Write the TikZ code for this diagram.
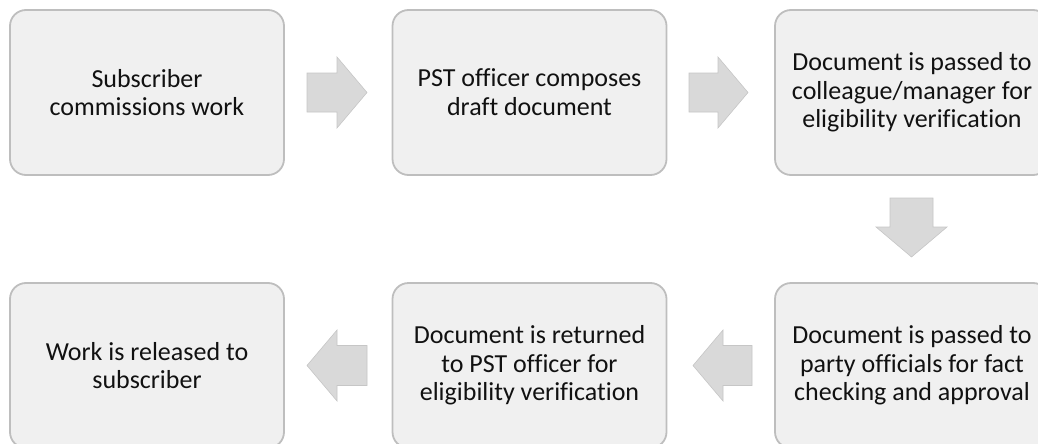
\documentclass[tikz,border=0pt]{standalone}
\usepackage{fontspec}
\setmainfont{Carlito}[Ligatures={NoCommon,NoRare,NoContextual}]
\definecolor{boxfill}{HTML}{F0F0F0}
\definecolor{boxline}{HTML}{BEBEBE}
\definecolor{arrfill}{HTML}{D9D9D9}
\definecolor{arrline}{HTML}{C6C6C6}
\definecolor{txt}{HTML}{111111}
\begin{document}
\begin{tikzpicture}[x=1pt,y=-1pt,
  stepbox/.style={draw=boxline, line width=1.8pt, fill=boxfill, rounded corners=16pt,
    minimum width=274pt, minimum height=165pt, inner sep=0pt, align=center,
    text=txt, font=\fontsize{26}{28.7}\selectfont},
  blockarrow/.style={fill=arrfill, draw=arrline, line width=0.6pt}]
\useasboundingbox (0,0) rectangle (1038,444);
\clip (0,0) rectangle (1038,444);
\node[stepbox] (b1) at (147,92.5) {Subscriber\\commissions work};
\node[stepbox] (b2) at (529.5,92.5) {PST officer composes\\draft document};
\node[stepbox] (b3) at (912,92.5) {Document is passed to\\colleague/manager for\\eligibility verification};
\node[stepbox] (b4) at (912,365.5) {Document is passed to\\party officials for fact\\checking and approval};
\node[stepbox] (b5) at (529.5,365.5) {Document is returned\\to PST officer for\\eligibility verification};
\node[stepbox] (b6) at (147,365.5) {Work is released to\\subscriber};
% right arrows
\draw[blockarrow] (307,73) -- (337,73) -- (337,57) -- (367,92.5) -- (337,128) -- (337,112) -- (307,112) -- cycle;
\draw[blockarrow] (689,73) -- (718,73) -- (718,57) -- (748,92.5) -- (718,128) -- (718,112) -- (689,112) -- cycle;
% down arrow
\draw[blockarrow] (890,198) -- (933,198) -- (933,227) -- (947,227) -- (911.5,257) -- (876,227) -- (890,227) -- cycle;
% left arrows
\draw[blockarrow] (752,345.5) -- (723,345.5) -- (723,330) -- (693,365.5) -- (723,401) -- (723,385.5) -- (752,385.5) -- cycle;
\draw[blockarrow] (367,345.5) -- (337,345.5) -- (337,330) -- (307,365.5) -- (337,401) -- (337,385.5) -- (367,385.5) -- cycle;
\end{tikzpicture}
\end{document}
